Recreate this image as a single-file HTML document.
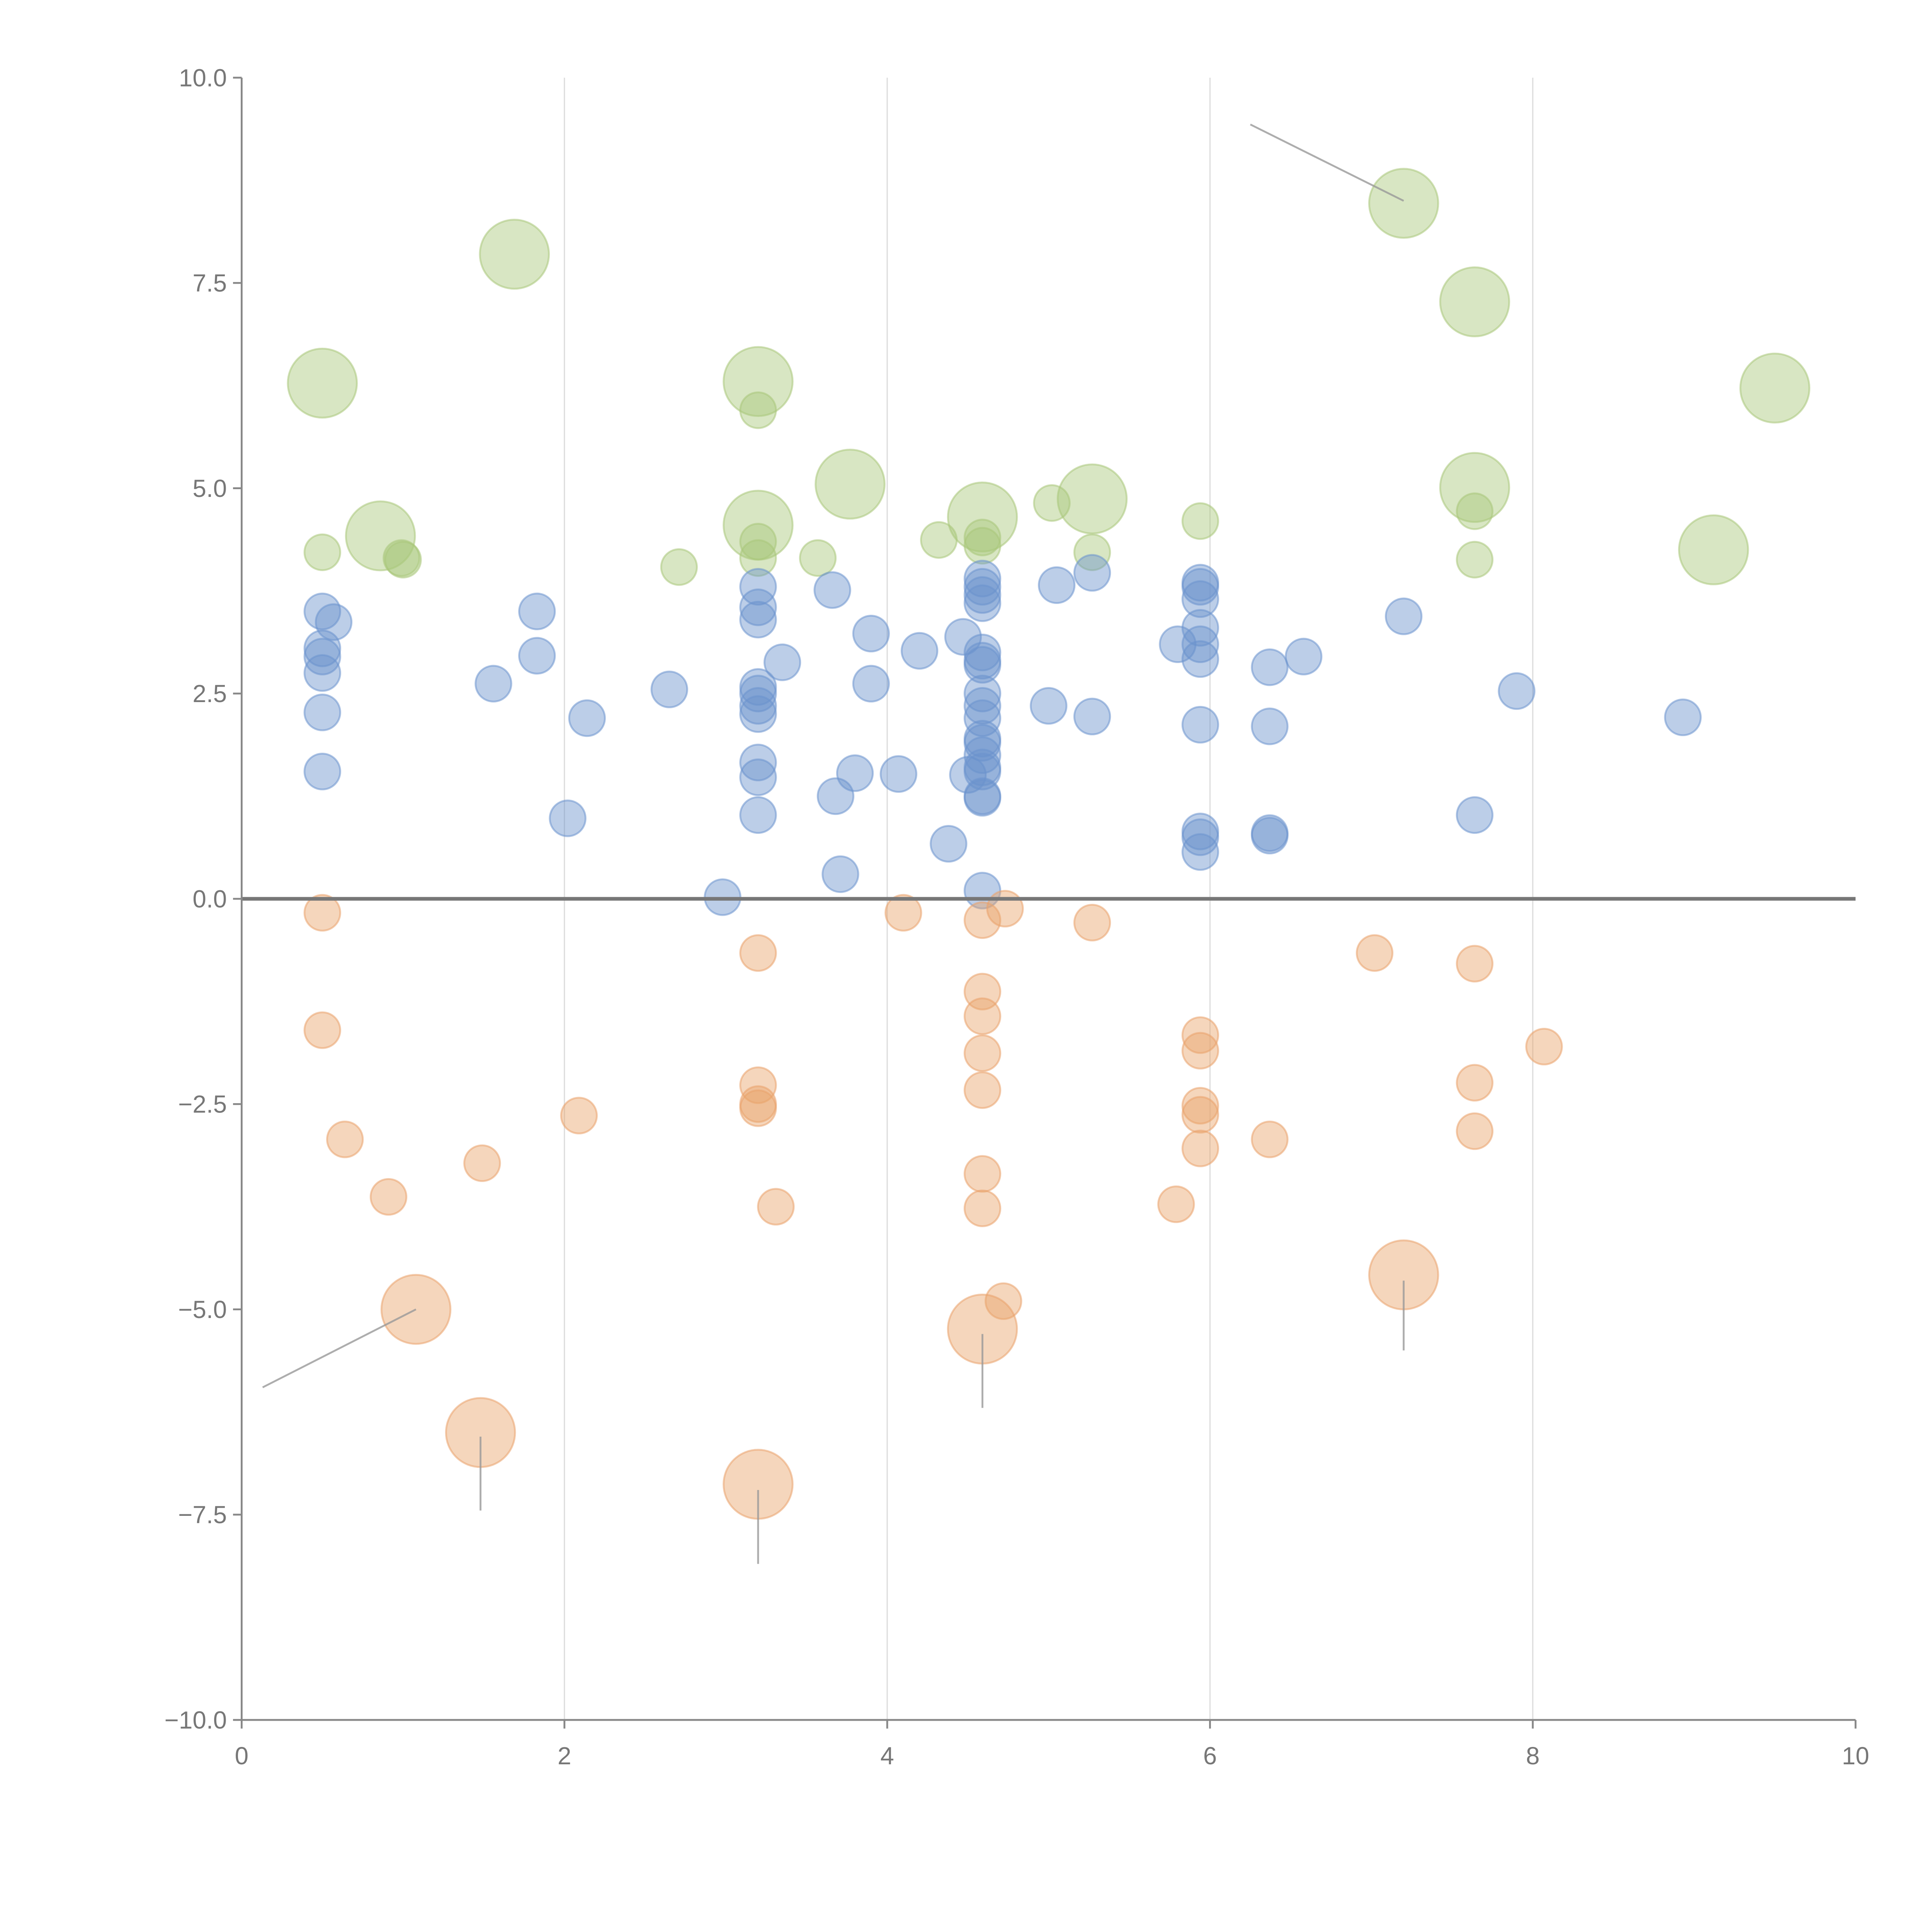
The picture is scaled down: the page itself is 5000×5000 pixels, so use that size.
<!DOCTYPE html>
<html><head><meta charset="utf-8"><style>html,body{margin:0;padding:0;background:#fff}svg{display:block}</style></head>
<body>
<svg id="chart" width="5000" height="5000" viewBox="0 0 1567 1567" xmlns="http://www.w3.org/2000/svg" font-family="Liberation Sans, sans-serif">
<g id="grid"></g>
<g id="marks"></g>
<g id="axes"></g>
</svg>
<script>
const xTicks = [0, 2, 4, 6, 8, 10];
const yTicks = [10, 7.5, 5, 2.5, 0, -2.5, -5, -7.5, -10];
const greenBigX = [0.5,0.86,1.69,3.2,3.2,3.77,4.59,5.27,7.2,7.64,7.64,9.12,9.5];
const greenBigY = [6.28,4.42,7.85,6.3,4.55,5.05,4.65,4.87,8.47,7.27,5.01,4.25,6.22];
const greenX = [0.5,0.99,1.0,2.71,3.2,3.2,3.2,3.57,4.32,4.59,4.59,5.02,5.27,5.94,7.64,7.64];
const greenY = [4.22,4.15,4.13,4.04,5.95,4.35,4.15,4.15,4.37,4.4,4.3,4.82,4.22,4.6,4.72,4.13];
const blueX = [0.5,0.5,0.5,0.5,0.5,0.5,0.57,1.56,1.83,1.83,2.02,2.14,2.65,2.98,3.2,3.2,3.2,3.2,3.2,3.2,3.2,3.2,3.2,3.2,3.35,3.66,3.68,3.71,3.8,3.9,3.9,4.07,4.2,4.38,4.47,4.5,4.59,4.59,4.59,4.59,4.59,4.59,4.59,4.59,4.59,4.59,4.59,4.59,4.59,4.59,4.59,4.59,4.59,4.59,5.0,5.05,5.27,5.27,5.8,5.94,5.94,5.94,5.94,5.94,5.94,5.94,5.94,5.94,5.94,6.37,6.37,6.37,6.37,6.58,7.2,7.64,7.9,8.93];
const blueY = [3.5,3.05,2.95,2.75,2.27,1.55,3.37,2.62,3.5,2.96,0.98,2.2,2.55,0.02,3.8,3.55,3.4,2.58,2.5,2.35,2.25,1.66,1.48,1.02,2.88,3.76,1.25,0.3,1.53,3.23,2.62,1.52,3.02,0.67,3.19,1.51,3.9,3.8,3.7,3.6,3.0,2.9,2.85,2.5,2.35,2.2,1.95,1.9,1.75,1.6,1.55,1.25,1.23,0.1,2.35,3.82,3.97,2.22,3.1,3.85,3.8,3.65,3.3,3.1,2.92,2.12,0.82,0.75,0.57,2.82,2.1,0.8,0.77,2.95,3.44,1.02,2.53,2.21];
const orangeX = [0.5,0.5,0.64,0.91,1.49,2.09,3.2,3.2,3.2,3.2,3.31,4.1,4.59,4.73,4.59,4.59,4.59,4.59,4.59,4.59,4.72,5.27,5.79,5.94,5.94,5.94,5.94,5.94,6.37,7.02,7.64,7.64,7.64,8.07];
const orangeY = [-0.17,-1.6,-2.93,-3.63,-3.22,-2.64,-0.66,-2.27,-2.5,-2.55,-3.75,-0.17,-0.26,-0.12,-1.13,-1.43,-1.88,-2.33,-3.35,-3.77,-4.9,-0.29,-3.72,-1.66,-1.85,-2.52,-2.63,-3.04,-2.93,-0.66,-0.79,-2.24,-2.83,-1.8];
const orangeBigX = [1.08,1.48,3.2,4.59,7.2];
const orangeBigY = [-5.0,-6.5,-7.13,-5.24,-4.58];
const leadX1 = [6.25,0.13,1.48,3.2,4.59,7.2];
const leadY1 = [9.43,-5.95,-6.55,-7.2,-5.3,-4.65];
const leadX2 = [7.2,1.08,1.48,3.2,4.59,7.2];
const leadY2 = [8.5,-5.0,-7.45,-8.1,-6.2,-5.5];

const NS = "http://www.w3.org/2000/svg";
const L = 196, R = 1505, T = 63, B = 1395;
const sx = v => L + (v - 0) / 10 * (R - L);
const sy = v => B - (v + 10) / 20 * (B - T);
function mk(tag, attrs, parent) {
  const e = document.createElementNS(NS, tag);
  for (const k in attrs) e.setAttribute(k, attrs[k]);
  parent.appendChild(e);
  return e;
}
const grid = document.getElementById('grid');
const marks = document.getElementById('marks');
const axes = document.getElementById('axes');

xTicks.forEach(t => {
  if (t === 0 || t === 10) return;
  const g = mk('line', {x1: sx(t), x2: sx(t), y1: T, y2: B, stroke: '#dddddd', 'stroke-width': 1}, grid);
  
  
});

function series(xs, ys, r, fill, stroke, name) {
  xs.forEach((x, i) => {
    const c = mk('circle', {cx: sx(x), cy: sy(ys[i]), r: r, fill: fill, 'fill-opacity': 0.45, stroke: stroke, 'stroke-opacity': 0.55, 'stroke-width': 1.5}, marks);
    
    
  });
}
series(greenBigX, greenBigY, 28, '#a9c77a', '#a9c77a', 'green-large-bubble');
series(greenX, greenY, 14.5, '#a9c77a', '#a9c77a', 'green-bubble');
series(blueX, blueY, 14.5, '#6b93cd', '#6b93cd', 'blue-bubble');
series(orangeX, orangeY, 14.5, '#e9a36b', '#e9a36b', 'orange-bubble');
series(orangeBigX, orangeBigY, 28, '#e9a36b', '#e9a36b', 'orange-large-bubble');

leadX1.forEach((x, i) => {
  const l = mk('line', {x1: sx(x), y1: sy(leadY1[i]), x2: sx(leadX2[i]), y2: sy(leadY2[i]), stroke: '#999', 'stroke-width': 1.5, 'stroke-opacity': 0.8}, marks);
  
  
});

const zero = mk('line', {x1: L, x2: R, y1: sy(0), y2: sy(0), stroke: '#777', 'stroke-width': 3}, axes);


const ya = mk('line', {x1: L, x2: L, y1: T, y2: B, stroke: '#888', 'stroke-width': 1.5}, axes);


const xa = mk('line', {x1: L, x2: R, y1: B, y2: B, stroke: '#888', 'stroke-width': 1.5}, axes);



yTicks.forEach(t => {
  const tk = mk('line', {x1: L - 7, x2: L, y1: sy(t), y2: sy(t), stroke: '#888', 'stroke-width': 1.5}, axes);
  
  
  const tx = mk('text', {x: L - 12, y: sy(t) + 7, 'text-anchor': 'end', 'font-size': 20, fill: '#777'}, axes);
  tx.textContent = t.toFixed(1).replace('-', '\u2212');
  
  
});
xTicks.forEach(t => {
  const tk = mk('line', {x1: sx(t), x2: sx(t), y1: B, y2: B + 7, stroke: '#888', 'stroke-width': 1.5}, axes);
  
  
  const tx = mk('text', {x: sx(t), y: B + 36, 'text-anchor': 'middle', 'font-size': 20, fill: '#777'}, axes);
  tx.textContent = String(t);
  
  
});
</script>
</body></html>
